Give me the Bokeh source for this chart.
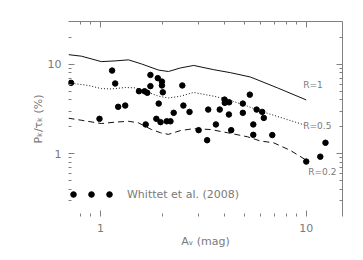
from bokeh.plotting import figure
from bokeh.models import (Range1d, FixedTicker, LogAxis, BasicTickFormatter,
                          Legend, LegendItem, ColumnDataSource)
from bokeh.core.properties import value
from bokeh.embed import file_html
from bokeh.resources import INLINE

# ---- data ----
whittet_av = [0.72, 0.99, 1.14, 1.18, 1.22, 1.32, 1.54, 1.64, 1.69, 1.66,
              1.75, 1.75, 1.87, 1.90, 1.92, 1.96, 1.99, 1.99, 2.01, 2.10,
              2.19, 2.27, 2.50, 2.53, 2.71, 3.00, 3.30, 3.34, 3.64, 3.80,
              4.01, 4.02, 4.22, 4.21, 4.32, 4.92, 4.92, 5.32, 5.53, 5.53,
              5.74, 6.11, 6.22, 6.84, 10.0, 11.7, 12.4]
whittet_p = [6.2, 2.46, 8.5, 6.1, 3.35, 3.46, 5.0, 5.0, 4.8, 2.13,
             7.6, 5.7, 2.46, 7.0, 3.64, 2.26, 6.4, 5.8, 4.86, 2.31,
             2.31, 2.87, 5.8, 3.46, 2.94, 1.84, 1.42, 3.12, 2.13, 3.12,
             4.03, 3.71, 3.76, 2.75, 1.84, 3.64, 2.87, 4.58, 2.13, 1.63,
             3.12, 2.94, 2.52, 1.62, 0.82, 0.93, 1.33]

r1_av = [0.70, 0.81, 1.01, 1.18, 1.37, 1.58, 1.92, 2.14, 2.45, 2.84, 3.55, 4.29, 5.36, 7.25, 10.0]
r1_p = [12.8, 12.3, 10.7, 10.9, 11.2, 10.1, 8.6, 8.3, 9.1, 9.7, 8.7, 8.05, 7.2, 5.45, 4.0]

r05_av = [0.70, 0.875, 1.01, 1.13, 1.32, 1.48, 1.71, 1.92, 2.14, 2.45, 2.84, 3.55, 4.15, 5.19, 6.0, 7.5, 10.0]
r05_p = [6.2, 5.8, 5.35, 5.3, 5.5, 5.45, 4.85, 4.4, 4.2, 4.4, 4.85, 4.4, 4.05, 3.4, 3.0, 2.55, 2.07]

r02_av = [0.70, 0.81, 1.01, 1.18, 1.37, 1.53, 1.77, 1.96, 2.14, 2.45, 2.84, 3.43, 4.15, 5.19, 6.0, 6.94, 8.39, 10.0]
r02_p = [2.5, 2.37, 2.18, 2.26, 2.31, 2.22, 1.87, 1.72, 1.65, 1.82, 1.91, 1.87, 1.72, 1.55, 1.39, 1.33, 1.09, 0.85]

curve_labels = ["R=1", "R=0.5", "R=0.2"]
legend_label = "Whittet et al. (2008)"
x_major = [1, 10]
x_minor = [0.8, 0.9, 2, 3, 4, 5, 6, 7, 8, 9]
y_major = [1, 10]
y_minor = [0.3, 0.4, 0.5, 0.6, 0.7, 0.8, 0.9, 2, 3, 4, 5, 6, 7, 8, 9, 20]

# ---- figure ----
FONT = "DejaVu Sans"
GRAY = "#808080"
TXT = "#7a7a7a"

p = figure(width=322, height=250, x_axis_type="log", y_axis_type="log",
           x_range=Range1d(0.7, 15), y_range=Range1d(0.2, 30),
           output_backend="svg", toolbar_location=None,
           margin=(0, 0, 0, 28),
           min_border_left=40, min_border_right=8,
           min_border_top=21, min_border_bottom=33)
p.grid.visible = False
p.outline_line_color = None
p.background_fill_color = "white"
p.border_fill_color = "white"

xt = FixedTicker(ticks=x_major, minor_ticks=x_minor)
yt = FixedTicker(ticks=y_major, minor_ticks=y_minor)


def style(ax, ticker, show_line, show_labels):
    ax.ticker = ticker
    ax.formatter = BasicTickFormatter()
    ax.major_tick_in = 6
    ax.major_tick_out = 0
    ax.minor_tick_in = 3
    ax.minor_tick_out = 0
    ax.major_tick_line_color = GRAY
    ax.minor_tick_line_color = GRAY
    ax.axis_line_color = GRAY if show_line else None
    ax.major_label_text_font = FONT
    if show_labels:
        ax.major_label_text_color = TXT
        ax.major_label_text_font_size = "11px"
    else:
        ax.major_label_text_color = None
        ax.major_label_text_font_size = "1px"
        ax.major_label_standoff = 0
    ax.axis_label_text_font = FONT
    ax.axis_label_text_font_style = "normal"
    ax.axis_label_text_color = TXT
    ax.axis_label_text_font_size = "11px"


bx = p.below[0]
ly = p.left[0]
style(bx, xt, False, True)
style(ly, yt, False, True)
bx.axis_label = "Aᵥ (mag)"
bx.major_label_standoff = 7
bx.axis_label_standoff = 0
ly.axis_label = "Pₖ/τₖ (%)"
ly.major_label_standoff = 7
ly.axis_label_standoff = 0

top = LogAxis()
style(top, xt, True, False)
p.add_layout(top, "above")
right = LogAxis()
style(right, yt, True, False)
p.add_layout(right, "right")

# ---- curves ----
p.line(r1_av, r1_p, line_color="#111111", line_width=1)
p.line(r05_av, r05_p, line_color="#111111", line_width=1, line_dash="1 2")
p.line(r02_av, r02_p, line_color="#111111", line_width=1, line_dash="6 4")

lab_src = ColumnDataSource(dict(
    x=[r1_av[-1], r05_av[-1], r02_av[-1]],
    y=[r1_p[-1], r05_p[-1], r02_p[-1]],
    text=curve_labels,
    xo=[-3, -3, 2],
    yo=[-15, 0, 12],
))
p.text(x="x", y="y", text="text", x_offset="xo", y_offset="yo", source=lab_src,
       text_font=value(FONT), text_font_size="9px", text_color=TXT,
       text_align="left", text_baseline="middle")

# ---- points ----
pts = p.scatter(whittet_av, whittet_p, size=5.5, fill_color="black", line_color="black")

# legend key drawn as three dots, as in the original figure
legend = Legend(items=[LegendItem(label=value(""), renderers=[pts]),
                       LegendItem(label=value(""), renderers=[pts]),
                       LegendItem(label=value("\u00a0\u00a0" + legend_label), renderers=[pts])],
                orientation="horizontal",
                location=(-2, 15), border_line_color=None, background_fill_alpha=0,
                padding=0, margin=0, spacing=0, glyph_width=14, glyph_height=14,
                label_height=14, label_width=0, label_standoff=4,
                label_text_font=FONT, label_text_font_size="11px",
                label_text_color=TXT)
p.add_layout(legend)

open("out.html", "w").write(file_html(p, INLINE))
